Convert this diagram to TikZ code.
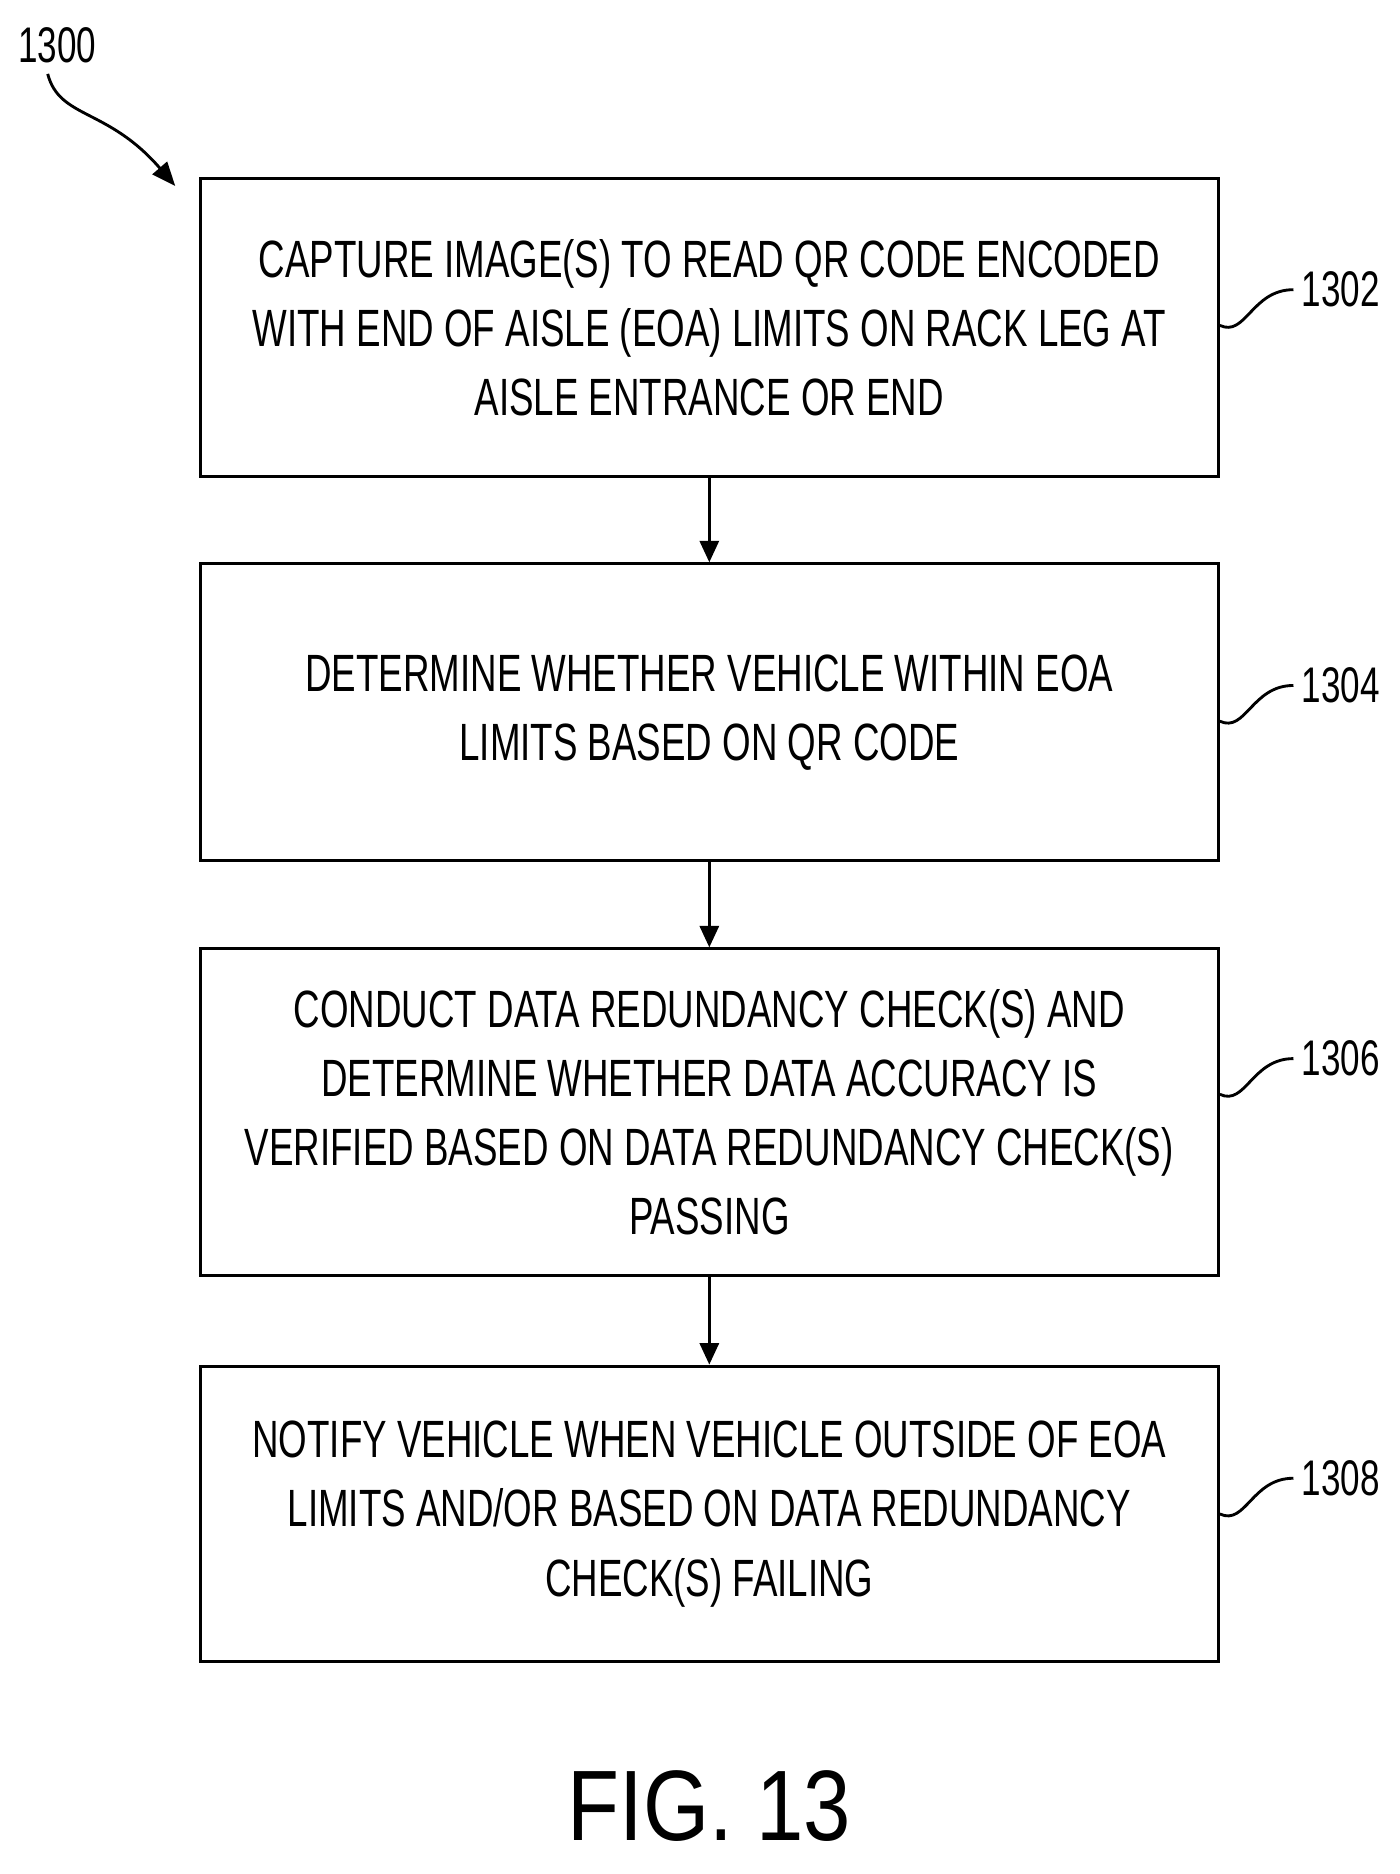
\documentclass[tikz,border=0pt]{standalone}
\usepackage{fontspec}
\setmainfont{Liberation Sans}
\usepackage{graphicx}
\usetikzlibrary{arrows.meta}
\newcommand{\nl}[1]{\scalebox{0.7}[1]{#1}}
\begin{document}
\begin{tikzpicture}[x=0.5pt,y=-0.5pt,
 box/.style={draw,line width=1.3pt,minimum width=427pt,align=center,font=\fontsize{22}{29}\selectfont},
 arr/.style={line width=1.2pt,-{Triangle[length=9pt,width=8pt]}},
 lab/.style={font=\fontsize{21}{25}\selectfont},
 lead/.style={line width=1.2pt}]
\useasboundingbox (0,0) rectangle (1174,1572);
\node[box,minimum height=125pt] (b1) at (595,275) {\nl{CAPTURE IMAGE(S) TO READ QR CODE ENCODED}\\\nl{WITH END OF AISLE (EOA) LIMITS ON RACK LEG AT}\\\nl{AISLE ENTRANCE OR END}};
\node[box,minimum height=124.5pt] (b2) at (595,597.5) {\nl{DETERMINE WHETHER VEHICLE WITHIN EOA}\\\nl{LIMITS BASED ON QR CODE}};
\node[box,minimum height=137pt] (b3) at (595,933) {\nl{CONDUCT DATA REDUNDANCY CHECK(S) AND}\\\nl{DETERMINE WHETHER DATA ACCURACY IS}\\\nl{VERIFIED BASED ON DATA REDUNDANCY CHECK(S)}\\\nl{PASSING}};
\node[box,minimum height=124pt] (b4) at (595,1270) {\nl{NOTIFY VEHICLE WHEN VEHICLE OUTSIDE OF EOA}\\\nl{LIMITS AND/OR BASED ON DATA REDUNDANCY}\\\nl{CHECK(S) FAILING}};
\draw[arr] (b1) -- (b2);
\draw[arr] (b2) -- (b3);
\draw[arr] (b3) -- (b4);
\foreach \b/\n/\y in {b1/1302/243,b2/1304/575,b3/1306/888,b4/1308/1240}{
 \node[lab,anchor=west] (l\n) at (1085,\y) {\nl{\n}};
 \draw[lead] (\b.east |- 0,\y+30) .. controls (1045,\y+40) and (1050,\y) .. (l\n.west);
}
\node[lab] (t) at (48,38) {\nl{1300}};
\coordinate (e) at (147,156);
\draw[line width=1.2pt,-{Triangle[length=10pt,width=8pt]}] (40,62) .. controls (50,100) and (90,90) .. (e);
\node[font=\fontsize{42}{48}\selectfont] (fig) at (595,1515) {\scalebox{0.85}[1]{FIG. 13}};
\end{tikzpicture}
\end{document}
